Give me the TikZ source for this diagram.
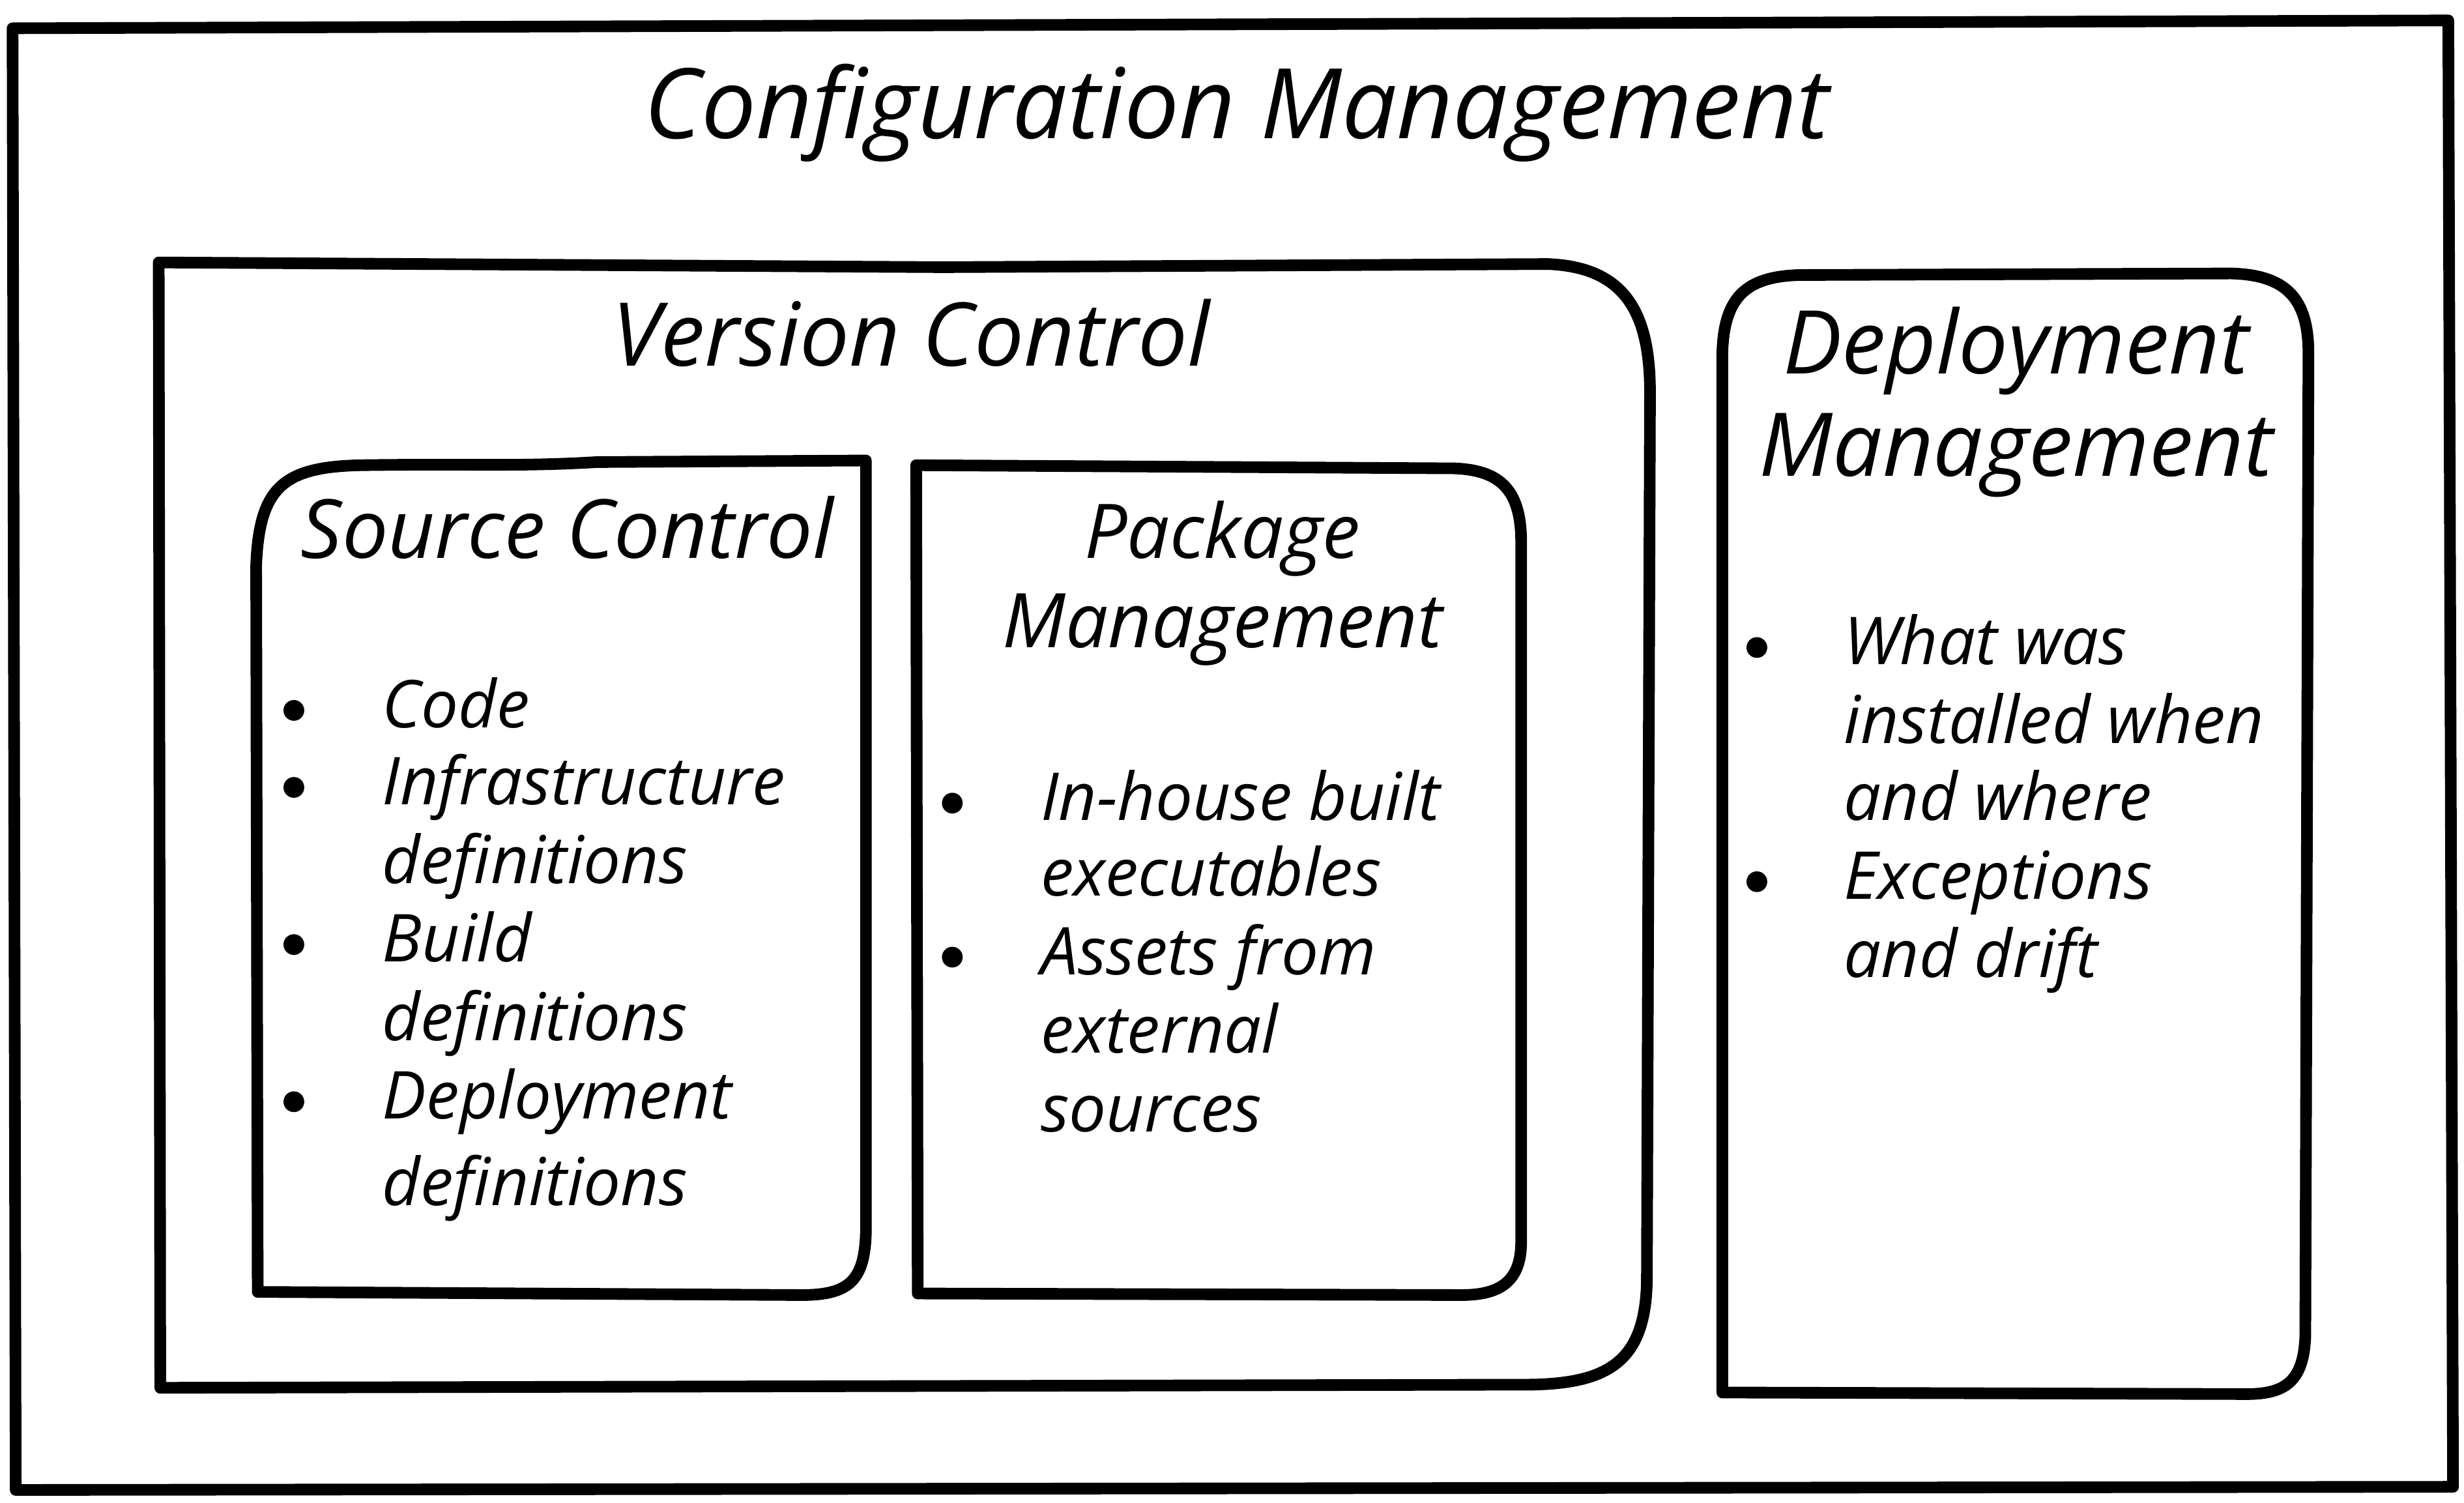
\documentclass[tikz,border=0pt]{standalone}
\usepackage{fontspec}
\setmainfont{Open Sans}
\begin{document}
\begin{tikzpicture}[x=0.5pt,y=-0.5pt,
  box/.style={line width=3.7pt,line join=round,line cap=round},
  txt/.style={inner sep=0pt,font=\itshape},
  hd/.style={txt,anchor=base},
  it/.style={txt,anchor=base west,font=\fontsize{21}{21}\selectfont\itshape},
  dot/.style={circle,fill=black,minimum size=6.6pt,inner sep=0pt}]
\useasboundingbox (0,0) rectangle (1568,956);
% outer
\draw[box] (8,18) -- (1558,13) -- (1561,946) -- (10,948) -- cycle;
% version control
\draw[box] (101,167) -- (600,170) -- (985,168) .. controls (1035,170) and (1050,200) .. (1050,250)
  -- (1048,815) .. controls (1047,865) and (1025,880) .. (975,881) -- (102,883) -- cycle;
% source control
\draw[box] (164,822) -- (163,360) .. controls (165,310) and (180,297) .. (230,296)
  .. controls (300,295) and (330,297) .. (380,294) -- (551,293) -- (551,785)
  .. controls (550,815) and (540,824) .. (510,824) -- cycle;
% package management
\draw[box] (583,296) -- (925,298) .. controls (955,299) and (968,312) .. (968,345)
  -- (968,790) .. controls (968,815) and (955,824) .. (930,824) -- (584,823) -- cycle;
% deployment management
\draw[box] (1096,886) -- (1096,225) .. controls (1097,190) and (1110,176) .. (1145,175)
  -- (1420,174) .. controls (1455,175) and (1469,190) .. (1469,225)
  -- (1467,850) .. controls (1466,878) and (1455,887) .. (1430,887) -- cycle;
% headings
\node[hd,font=\fontsize{31}{31}\selectfont\itshape] (title) at (787,88) {Configuration Management};
\node[hd,font=\fontsize{28}{28}\selectfont\itshape] (vc) at (580,233) {Version Control};
\node[hd,font=\fontsize{26}{26}\selectfont\itshape] (sc) at (361,355) {Source Control};
\node[hd,font=\fontsize{24}{24}\selectfont\itshape] (pm1) at (778,355) {Package};
\node[hd,font=\fontsize{24}{24}\selectfont\itshape] (pm2) at (778,412) {Management};
\node[hd,font=\fontsize{28}{28}\selectfont\itshape] (dm1) at (1283,238) {Deployment};
\node[hd,font=\fontsize{28}{28}\selectfont\itshape] (dm2) at (1283,303) {Management};
% source control items
\node[dot] (sb1) at (187,452) {};
\node[dot] (sb2) at (187,501) {};
\node[dot] (sb3) at (187,601) {};
\node[dot] (sb4) at (187,701) {};
\node[it] (s1) at (243,463) {Code};
\node[it] (s2) at (243,512) {Infrastructure};
\node[it] (s3) at (243,562) {definitions};
\node[it] (s4) at (243,612) {Build};
\node[it] (s5) at (243,662) {definitions};
\node[it] (s6) at (243,712) {Deployment};
\node[it] (s7) at (243,767) {definitions};
% package items
\node[dot] (pb1) at (606,511) {};
\node[dot] (pb2) at (606,609) {};
\node[it] (p1) at (662,522) {In-house built};
\node[it] (p2) at (662,570) {executables};
\node[it] (p3) at (662,620) {Assets from};
\node[it] (p4) at (662,670) {external};
\node[it] (p5) at (662,720) {sources};
% deployment items
\node[dot] (db1) at (1118,412) {};
\node[dot] (db2) at (1118,561) {};
\node[it] (d1) at (1173,423) {What was};
\node[it] (d2) at (1173,473) {installed when};
\node[it] (d3) at (1173,522) {and where};
\node[it] (d4) at (1173,572) {Exceptions};
\node[it] (d5) at (1173,622) {and drift};
\end{tikzpicture}
\end{document}
